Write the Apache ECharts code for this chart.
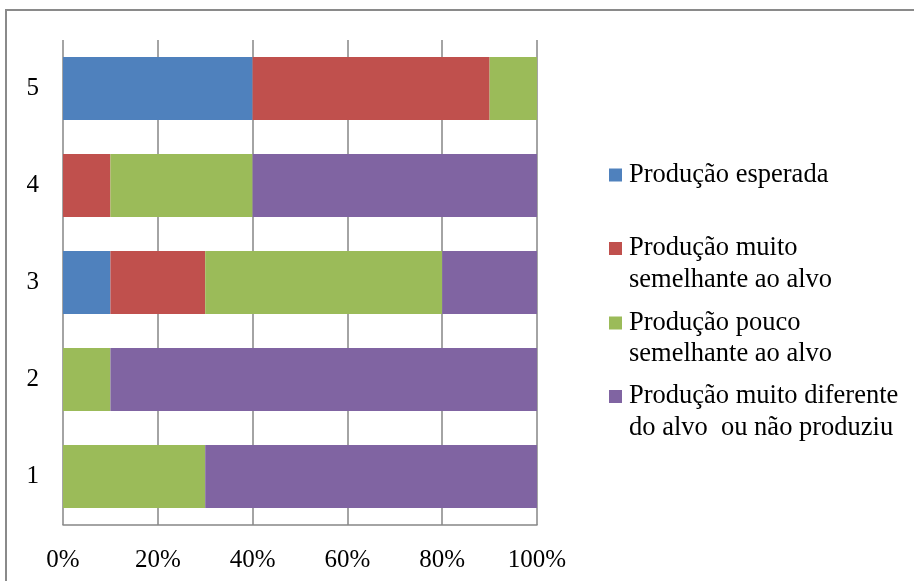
<!DOCTYPE html>
<html>
<head>
<meta charset="utf-8">
<script src="https://cdn.jsdelivr.net/npm/echarts@6/dist/echarts.min.js"></script>
<style>html,body{margin:0;padding:0;background:#fff;}#c{width:914px;height:581px;}</style>
</head>
<body>
<div id="c"></div>
<script>
const categories = ['1', '2', '3', '4', '5'];
const seriesNames = [
  'Produção esperada',
  'Produção muito\nsemelhante ao alvo',
  'Produção pouco\nsemelhante ao alvo',
  'Produção muito diferente\ndo alvo  ou não produziu'
];
const esperada = [0, 0, 10, 0, 40];
const muitoSemelhante = [0, 0, 20, 10, 50];
const poucoSemelhante = [30, 10, 50, 30, 10];
const muitoDiferente = [70, 90, 20, 60, 0];
const xTicks = [0, 20, 40, 60, 80, 100];
const colors = ['#4F81BD', '#C0504D', '#9BBB59', '#8064A2'];

const values = [esperada, muitoSemelhante, poucoSemelhante, muitoDiferente];
const FONT = '"Liberation Serif", "Times New Roman", serif';
const LH = 31.5;
const iconCenters = [175, 248.5, 323, 396.5];

const legends = seriesNames.map((name, i) => {
  const multi = name.indexOf('\n') >= 0;
  return {
    left: 609,
    top: multi ? iconCenters[i] - (LH * 3) / 2 : iconCenters[i] - LH / 2,
    padding: 0,
    itemWidth: 13,
    itemHeight: 13,
    itemGap: 0,
    icon: 'rect',
    selectedMode: false,
    data: [name],
    formatter: (n) => (n.indexOf('\n') >= 0 ? ' \n' + n : n),
    textStyle: {
      fontFamily: FONT,
      fontSize: 26.5,
      color: '#000',
      lineHeight: LH,
      padding: [0, 0, 0, 2]
    }
  };
});

const chart = echarts.init(document.getElementById('c'), null, { renderer: 'canvas' });
chart.setOption({
  animation: false,
  backgroundColor: '#fff',
  color: colors,
  graphic: [{
    type: 'rect',
    shape: { x: 6, y: 10, width: 1000, height: 1000 },
    style: { fill: 'none', stroke: '#8a8a8a', lineWidth: 2 },
    silent: true
  }],
  legend: legends,
  grid: { left: 63, right: 377, top: 40, bottom: 56, containLabel: false },
  xAxis: {
    type: 'value',
    min: xTicks[0],
    max: xTicks[xTicks.length - 1],
    interval: xTicks[1] - xTicks[0],
    axisLine: { show: true, lineStyle: { color: '#868686', width: 1.5 } },
    axisTick: { show: false },
    splitLine: { show: true, lineStyle: { color: '#868686', width: 1.5 } },
    axisLabel: {
      formatter: '{value}%',
      fontFamily: FONT,
      fontSize: 25,
      color: '#000',
      margin: 23
    }
  },
  yAxis: {
    type: 'category',
    data: categories,
    axisLine: { show: false },
    axisTick: { show: false },
    splitLine: { show: false },
    axisLabel: {
      fontFamily: FONT,
      fontSize: 25,
      color: '#000',
      margin: 24
    }
  },
  series: seriesNames.map((name, i) => ({
    name: name,
    type: 'bar',
    stack: 'total',
    barCategoryGap: '35%',
    data: values[i],
    itemStyle: { color: colors[i] }
  }))
});
</script>
</body>
</html>
